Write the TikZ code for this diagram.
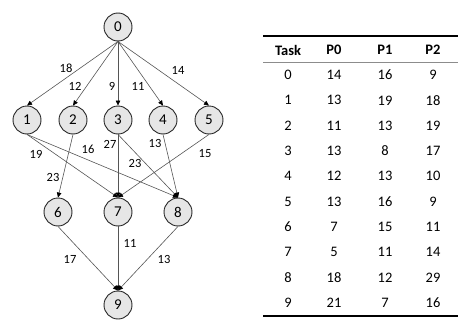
\documentclass[tikz,border=0pt]{standalone}
\usepackage{fontspec}
\setmainfont{Carlito}
\usetikzlibrary{arrows.meta}
\definecolor{nodefill}{HTML}{E6E6E6}
\definecolor{edgecol}{HTML}{555555}
\tikzset{
  task/.style={circle, draw=black!85, line width=0.9pt, fill=nodefill, minimum size=28pt, inner sep=0pt, font=\fontsize{15}{17}\selectfont},
  edge/.style={draw=edgecol, line width=0.6pt, -{Triangle[length=5pt,width=4.5pt,color=black]}},
  elab/.style={font=\fontsize{12.5}{14}\selectfont, inner sep=0pt},
  cell/.style={font=\fontsize{14.5}{16}\selectfont, inner sep=0pt, anchor=center},
  hcell/.style={cell, font=\fontsize{14.5}{16}\selectfont\bfseries},
}
\begin{document}
\begin{tikzpicture}[x=1pt,y=-1pt]
\useasboundingbox (0,0) rectangle (469,332);
% nodes
\node[task] (n0) at (118,27) {0};
\node[task] (n1) at (27,120) {1};
\node[task] (n2) at (73,120) {2};
\node[task] (n3) at (118,120) {3};
\node[task] (n4) at (163,120) {4};
\node[task] (n5) at (209,120) {5};
\node[task] (n6) at (58,212) {6};
\node[task] (n7) at (118,212) {7};
\node[task] (n8) at (178,212) {8};
\node[task] (n9) at (118,305) {9};
% edges
\foreach \t in {1,...,5} {\draw[edge] (n0.south) -- (n\t.north);}
\draw[edge] (n1.south) -- (n7.north);
\draw[edge] (n1.south) -- (n8.north);
\draw[edge] (n2.south) -- (n6.north);
\draw[edge] (n3.south) -- (n7.north);
\draw[edge] (n3.south) -- (n8.north);
\draw[edge] (n4.south) -- (n8.north);
\draw[edge] (n5.south) -- (n7.north);
\draw[edge] (n6.south) -- (n9.north);
\draw[edge] (n7.south) -- (n9.north);
\draw[edge] (n8.south) -- (n9.north);
% edge labels
\node[elab] (l01) at (66,68) {18};
\node[elab] (l02) at (75,86) {12};
\node[elab] (l03) at (112,86) {9};
\node[elab] (l04) at (138,86) {11};
\node[elab] (l05) at (178,70) {14};
\node[elab] (l17) at (36,154) {19};
\node[elab] (l18) at (88,149) {16};
\node[elab] (l37) at (110,144) {27};
\node[elab] (l38) at (135,163) {23};
\node[elab] (l48) at (155,143) {13};
\node[elab] (l57) at (205,154) {15};
\node[elab] (l26) at (53,177) {23};
\node[elab] (l69) at (70,259) {17};
\node[elab] (l79) at (130,243) {11};
\node[elab] (l89) at (164,259) {13};
% table
\draw[black, line width=1.5pt] (263,36) -- (458,36);
\draw[black!45, line width=0.9pt] (263,62) -- (458,62);
\draw[black, line width=1.5pt] (263,316) -- (458,316);
\node[hcell] (h0) at (288,50) {Task};
\node[hcell] (h1) at (334,50) {P0};
\node[hcell] (h2) at (385,50) {P1};
\node[hcell] (h3) at (433,50) {P2};
\foreach \r/\a/\b/\c [count=\i from 0] in {0/14/16/9,1/13/19/18,2/11/13/19,3/13/8/17,4/12/13/10,5/13/16/9,6/7/15/11,7/5/11/14,8/18/12/29,9/21/7/16} {
  \pgfmathsetmacro{\yy}{75+25.3*\i}
  \node[cell] (t\i a) at (288,\yy) {\r};
  \node[cell] (t\i b) at (334,\yy) {\a};
  \node[cell] (t\i c) at (385,\yy) {\b};
  \node[cell] (t\i d) at (433,\yy) {\c};
}
\end{tikzpicture}
\end{document}
